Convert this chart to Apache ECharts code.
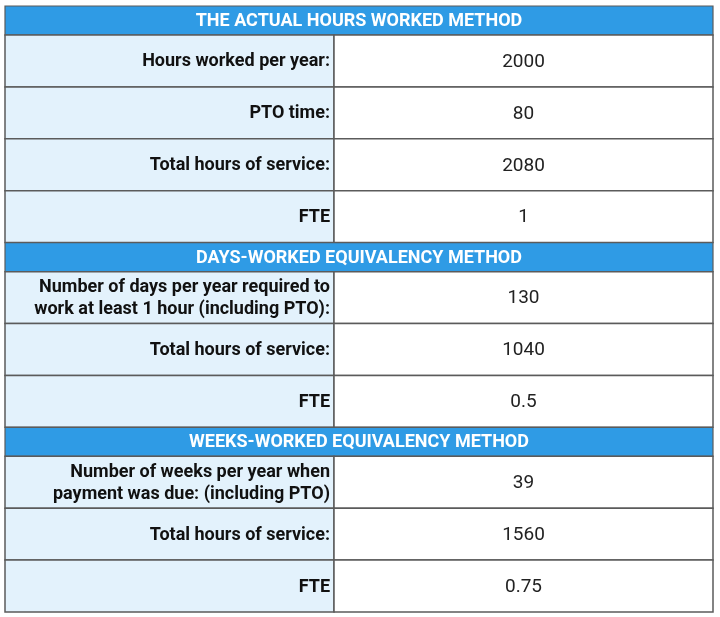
<!DOCTYPE html>
<html>
<head>
<meta charset="utf-8">
<script src="https://cdn.jsdelivr.net/npm/echarts@6/dist/echarts.min.js"></script>
<style>
  html, body { margin: 0; padding: 0; background: #fff; }
  #main { width: 720px; height: 617px; }
</style>
</head>
<body>
<div id="main"></div>
<script>
/* 表格数据 */

// 三个方法的标题
const sectionTitles = [
    'THE ACTUAL HOURS WORKED METHOD',
    'DAYS-WORKED EQUIVALENCY METHOD',
    'WEEKS-WORKED EQUIVALENCY METHOD'
]

// 每个方法的左列文字
const actualLabels = ['Hours worked per year:', 'PTO time:', 'Total hours of service:', 'FTE']
const daysLabels = ['Number of days per year required to\nwork at least 1 hour (including PTO):', 'Total hours of service:', 'FTE']
const weeksLabels = ['Number of weeks per year when\npayment was due: (including PTO)', 'Total hours of service:', 'FTE']

// 每个方法的右列数值
const actualValues = ['2000', '80', '2080', '1']
const daysValues = ['130', '1040', '0.5']
const weeksValues = ['39', '1560', '0.75']

/* 布局 */
const HEAD_UNITS = 0.56   // 标题行相对高度
const SPLIT = 0.4647      // 两列分界位置
const BORDER = '#5b5b5b'

// 把三段拼成行
const sections = [
    [actualLabels, actualValues],
    [daysLabels, daysValues],
    [weeksLabels, weeksValues]
]
let rows = []
let pos = 0
sections.forEach(([labels, values], i) => {
    rows.push({ kind: 'head', text: sectionTitles[i], start: pos, end: pos + HEAD_UNITS })
    pos += HEAD_UNITS
    labels.forEach((label, j) => {
        rows.push({ kind: 'cell', label, value: values[j], start: pos, end: pos + 1 })
        pos += 1
    })
})
const total = pos

// 画单元格
const renderItem = (params, api) => {
    const r = rows[params.dataIndex]
    const a = api.coord([0, api.value(0)])
    const b = api.coord([1, api.value(1)])
    const m = api.coord([SPLIT, api.value(0)])
    const x0 = a[0], y0 = a[1], x1 = b[0], y1 = b[1], xm = m[0]
    const h = y1 - y0
    if (r.kind === 'head') {
        return {
            type: 'group',
            children: [
                { type: 'rect', shape: { x: x0, y: y0, width: x1 - x0, height: h },
                  style: { fill: '#2f9be5', stroke: BORDER, lineWidth: 1.2 } },
                { type: 'text', style: { text: r.text, x: (x0 + x1) / 2, y: y0 + h / 2 + 1,
                  align: 'center', verticalAlign: 'middle', fill: '#fff',
                  fontFamily: 'Roboto', fontWeight: 'bold', fontSize: 18 } }
            ]
        }
    }
    return {
        type: 'group',
        children: [
            { type: 'rect', shape: { x: x0, y: y0, width: xm - x0, height: h },
              style: { fill: '#e3f2fc', stroke: BORDER, lineWidth: 1.5 } },
            { type: 'rect', shape: { x: xm, y: y0, width: x1 - xm, height: h },
              style: { fill: '#fff', stroke: BORDER, lineWidth: 1.5 } },
            { type: 'text', style: { text: r.label, x: xm - 4, y: y0 + h / 2 + 1,
              align: 'right', verticalAlign: 'middle', fill: '#111', lineHeight: 22,
              fontFamily: 'Roboto', fontWeight: 'bold', fontSize: 18 } },
            { type: 'text', style: { text: r.value, x: (xm + x1) / 2, y: y0 + h / 2 + 1,
              align: 'center', verticalAlign: 'middle', fill: '#222',
              fontFamily: 'Roboto', fontSize: 19 } }
        ]
    }
}

let myChart = echarts.init(document.getElementById('main'))
myChart.setOption({
    backgroundColor: '#fff',
    animation: false,
    grid: { left: 5, right: 7, top: 6, bottom: 5 },
    xAxis: { type: 'value', min: 0, max: 1, show: false },
    yAxis: { type: 'value', min: 0, max: total, inverse: true, show: false },
    series: [{
        type: 'custom',
        renderItem,
        encode: { x: -1, y: [0, 1] },
        data: rows.map(r => [r.start, r.end])
    }]
})
</script>
</body>
</html>
